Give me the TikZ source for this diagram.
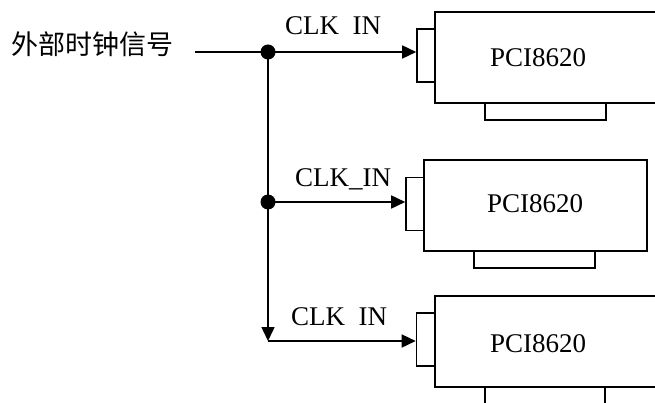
\documentclass[tikz,border=0pt]{standalone}
\usepackage{fontspec}
\setmainfont{Liberation Serif}
\newfontfamily\cjk{Noto Sans CJK SC}
\usetikzlibrary{arrows.meta}
\begin{document}
\begin{tikzpicture}[x=1pt,y=-1pt,
  wire/.style={line width=1.6pt},
  arr/.style={wire,-{Triangle[length=14pt,width=13pt]}},
  boxline/.style={draw,line width=1.6pt,fill=white},
  conn/.style={draw,line width=1.6pt,fill=white,inner sep=0pt,minimum width=18pt,minimum height=53pt},
  lbl/.style={font=\fontsize{27}{30}\selectfont,inner sep=0pt,anchor=base west},
  dot/.style={circle,fill=black,inner sep=0pt,minimum size=15pt}]
\useasboundingbox (0,0) rectangle (655,403);
\clip (0,0) rectangle (655,403);
% boxes
\draw[boxline] (485,103) rectangle (606,120);
\draw[boxline] (435,12) rectangle (680,103);
\node[conn] (c1) at (426,55.5) {};
\draw[boxline] (474,251) rectangle (595,268);
\draw[boxline] (424,160) rectangle (647,251);
\node[conn] (c2) at (415,204) {};
\draw[boxline] (485,387) rectangle (605,420);
\draw[boxline] (435,296) rectangle (680,387);
\node[conn] (c3) at (425.5,339.5) {};
% labels
\node[lbl] (p1) at (490,67) {PCI8620};
\node[lbl] (p2) at (487,213) {PCI8620};
\node[lbl] (p3) at (490,352) {PCI8620};
\node[lbl] (l1) at (285,35) {CLK\phantom{\_}IN};
\node[lbl] (l2) at (295,187) {CLK\_IN};
\node[lbl] (l3) at (291,325) {CLK\phantom{\_}IN};
\node[lbl,font=\cjk\fontsize{27}{30}\selectfont] (src) at (11,55) {外部时钟信号};
% wires
\coordinate (s) at (195,52);
\coordinate (j1) at (268,52);
\coordinate (j2) at (268,202);
\coordinate (k) at (268,341);
\draw[wire] (s) -- (j1);
\draw[arr] (j1) -- (c1.west |- j1);
\draw[arr] (j1) -- (k);
\draw[arr] (j2) -- (c2.west |- j2);
\draw[arr] (k) -- (c3.west |- k);
\node[dot] (d1) at (j1) {};
\node[dot] (d2) at (j2) {};
\end{tikzpicture}
\end{document}
